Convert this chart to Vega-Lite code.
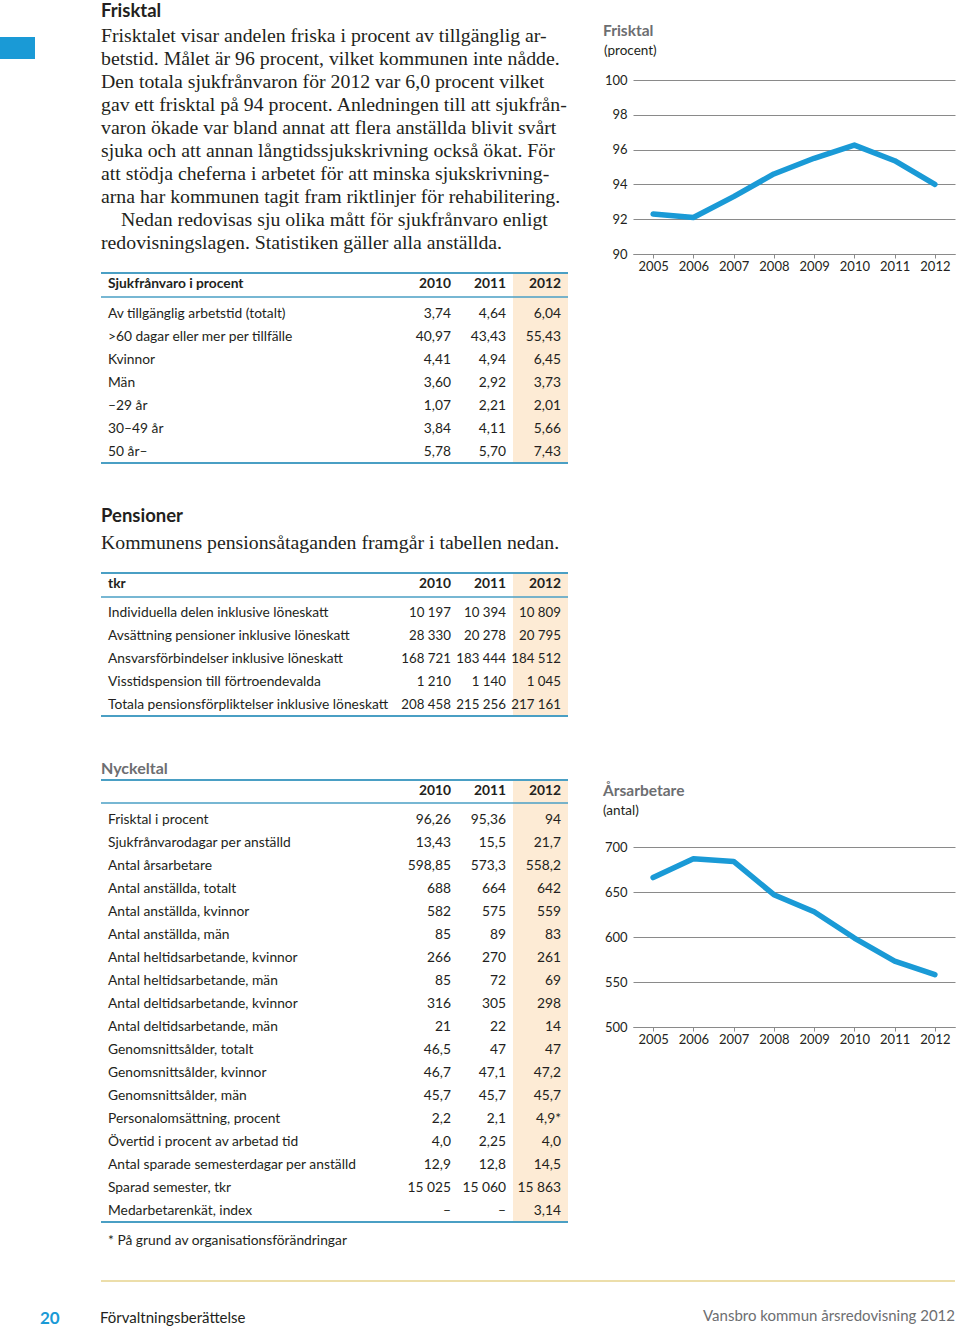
{
  "$schema": "https://vega.github.io/schema/vega-lite/v6.json",
  "width": 960,
  "height": 1330,
  "autosize": "none",
  "padding": 0,
  "background": "#ffffff",
  "config": {"view": {"stroke": null}, "text": {"font": "Lato", "fontSize": 14, "baseline": "middle", "fill": "#231f20"}},
  "resolve": {"scale": {"x": "independent", "y": "independent"}, "axis": {"x": "independent", "y": "independent"}},
  "datasets": {
    "para1": [
      {"line": 0, "indent": false, "text": "Frisktalet visar andelen friska i procent av tillgänglig ar-"},
      {"line": 1, "indent": false, "text": "betstid. Målet är 96 procent, vilket kommunen inte nådde."},
      {"line": 2, "indent": false, "text": "Den totala sjukfrånvaron för 2012 var 6,0 procent vilket"},
      {"line": 3, "indent": false, "text": "gav ett frisktal på 94 procent. Anledningen till att sjukfrån-"},
      {"line": 4, "indent": false, "text": "varon ökade var bland annat att flera anställda blivit svårt"},
      {"line": 5, "indent": false, "text": "sjuka och att annan långtidssjukskrivning också ökat. För"},
      {"line": 6, "indent": false, "text": "att stödja cheferna i arbetet för att minska sjukskrivning-"},
      {"line": 7, "indent": false, "text": "arna har kommunen tagit fram riktlinjer för rehabilitering."},
      {"line": 8, "indent": true, "text": "Nedan redovisas sju olika mått för sjukfrånvaro enligt"},
      {"line": 9, "indent": false, "text": "redovisningslagen. Statistiken gäller alla anställda."}
    ],
    "t1": [
      {"r": 0, "label": "Sjukfrånvaro i procent", "2010": "2010", "2011": "2011", "2012": "2012"},
      {"r": 1, "label": "Av tillgänglig arbetstid (totalt)", "2010": "3,74", "2011": "4,64", "2012": "6,04"},
      {"r": 2, "label": ">60 dagar eller mer per tillfälle", "2010": "40,97", "2011": "43,43", "2012": "55,43"},
      {"r": 3, "label": "Kvinnor", "2010": "4,41", "2011": "4,94", "2012": "6,45"},
      {"r": 4, "label": "Män", "2010": "3,60", "2011": "2,92", "2012": "3,73"},
      {"r": 5, "label": "–29 år", "2010": "1,07", "2011": "2,21", "2012": "2,01"},
      {"r": 6, "label": "30–49 år", "2010": "3,84", "2011": "4,11", "2012": "5,66"},
      {"r": 7, "label": "50 år–", "2010": "5,78", "2011": "5,70", "2012": "7,43"}
    ],
    "t2": [
      {"r": 0, "label": "tkr", "2010": "2010", "2011": "2011", "2012": "2012"},
      {"r": 1, "label": "Individuella delen inklusive löneskatt", "2010": "10 197", "2011": "10 394", "2012": "10 809"},
      {"r": 2, "label": "Avsättning pensioner inklusive löneskatt", "2010": "28 330", "2011": "20 278", "2012": "20 795"},
      {"r": 3, "label": "Ansvarsförbindelser inklusive löneskatt", "2010": "168 721", "2011": "183 444", "2012": "184 512"},
      {"r": 4, "label": "Visstidspension till förtroendevalda", "2010": "1 210", "2011": "1 140", "2012": "1 045"},
      {"r": 5, "label": "Totala pensionsförpliktelser inklusive löneskatt", "2010": "208 458", "2011": "215 256", "2012": "217 161"}
    ],
    "t3": [
      {"r": 0, "label": "", "2010": "2010", "2011": "2011", "2012": "2012"},
      {"r": 1, "label": "Frisktal i procent", "2010": "96,26", "2011": "95,36", "2012": "94"},
      {"r": 2, "label": "Sjukfrånvarodagar per anställd", "2010": "13,43", "2011": "15,5", "2012": "21,7"},
      {"r": 3, "label": "Antal årsarbetare", "2010": "598,85", "2011": "573,3", "2012": "558,2"},
      {"r": 4, "label": "Antal anställda, totalt", "2010": "688", "2011": "664", "2012": "642"},
      {"r": 5, "label": "Antal anställda, kvinnor", "2010": "582", "2011": "575", "2012": "559"},
      {"r": 6, "label": "Antal anställda, män", "2010": "85", "2011": "89", "2012": "83"},
      {"r": 7, "label": "Antal heltidsarbetande, kvinnor", "2010": "266", "2011": "270", "2012": "261"},
      {"r": 8, "label": "Antal heltidsarbetande, män", "2010": "85", "2011": "72", "2012": "69"},
      {"r": 9, "label": "Antal deltidsarbetande, kvinnor", "2010": "316", "2011": "305", "2012": "298"},
      {"r": 10, "label": "Antal deltidsarbetande, män", "2010": "21", "2011": "22", "2012": "14"},
      {"r": 11, "label": "Genomsnittsålder, totalt", "2010": "46,5", "2011": "47", "2012": "47"},
      {"r": 12, "label": "Genomsnittsålder, kvinnor", "2010": "46,7", "2011": "47,1", "2012": "47,2"},
      {"r": 13, "label": "Genomsnittsålder, män", "2010": "45,7", "2011": "45,7", "2012": "45,7"},
      {"r": 14, "label": "Personalomsättning, procent", "2010": "2,2", "2011": "2,1", "2012": "4,9*"},
      {"r": 15, "label": "Övertid i procent av arbetad tid", "2010": "4,0", "2011": "2,25", "2012": "4,0"},
      {"r": 16, "label": "Antal sparade semesterdagar per anställd", "2010": "12,9", "2011": "12,8", "2012": "14,5"},
      {"r": 17, "label": "Sparad semester, tkr", "2010": "15 025", "2011": "15 060", "2012": "15 863"},
      {"r": 18, "label": "Medarbetarenkät, index", "2010": "–", "2011": "–", "2012": "3,14"}
    ],
    "frisktal": [
      {"year": 2005, "v": 92.3}, {"year": 2006, "v": 92.1}, {"year": 2007, "v": 93.3}, {"year": 2008, "v": 94.6},
      {"year": 2009, "v": 95.5}, {"year": 2010, "v": 96.26}, {"year": 2011, "v": 95.36}, {"year": 2012, "v": 94.0}
    ],
    "arsarbetare": [
      {"year": 2005, "v": 666}, {"year": 2006, "v": 687}, {"year": 2007, "v": 684}, {"year": 2008, "v": 647},
      {"year": 2009, "v": 628}, {"year": 2010, "v": 598.85}, {"year": 2011, "v": 573.3}, {"year": 2012, "v": 558.2}
    ]
  },
  "layer": [
    {"data": {"values": [{"el": "tab"}]}, "mark": {"type": "rect", "color": "#1a9ad6"},
     "encoding": {"x": {"value": 0}, "x2": {"value": 35}, "y": {"value": 37}, "y2": {"value": 59}}},
    {"data": {"values": [{"el": "shade1"}]}, "mark": {"type": "rect", "color": "#fdebd5"},
     "encoding": {"x": {"value": 513}, "x2": {"value": 568}, "y": {"value": 273}, "y2": {"value": 463}}},
    {"data": {"values": [{"el": "shade2"}]}, "mark": {"type": "rect", "color": "#fdebd5"},
     "encoding": {"x": {"value": 513}, "x2": {"value": 568}, "y": {"value": 573}, "y2": {"value": 716}}},
    {"data": {"values": [{"el": "shade3"}]}, "mark": {"type": "rect", "color": "#fdebd5"},
     "encoding": {"x": {"value": 513}, "x2": {"value": 568}, "y": {"value": 780}, "y2": {"value": 1222}}},
    {"data": {"values": [{"el": "r1a"}]}, "mark": {"type": "rule", "color": "#4a9fc4", "strokeWidth": 2},
     "encoding": {"x": {"value": 101}, "x2": {"value": 568}, "y": {"value": 273}}},
    {"data": {"values": [{"el": "r1b"}]}, "mark": {"type": "rule", "color": "#4a9fc4", "strokeWidth": 1.5},
     "encoding": {"x": {"value": 101}, "x2": {"value": 568}, "y": {"value": 297}}},
    {"data": {"values": [{"el": "r1c"}]}, "mark": {"type": "rule", "color": "#4a9fc4", "strokeWidth": 2},
     "encoding": {"x": {"value": 101}, "x2": {"value": 568}, "y": {"value": 463}}},
    {"data": {"values": [{"el": "r2a"}]}, "mark": {"type": "rule", "color": "#4a9fc4", "strokeWidth": 2},
     "encoding": {"x": {"value": 101}, "x2": {"value": 568}, "y": {"value": 573}}},
    {"data": {"values": [{"el": "r2b"}]}, "mark": {"type": "rule", "color": "#4a9fc4", "strokeWidth": 1.5},
     "encoding": {"x": {"value": 101}, "x2": {"value": 568}, "y": {"value": 597}}},
    {"data": {"values": [{"el": "r2c"}]}, "mark": {"type": "rule", "color": "#4a9fc4", "strokeWidth": 2},
     "encoding": {"x": {"value": 101}, "x2": {"value": 568}, "y": {"value": 716}}},
    {"data": {"values": [{"el": "r3a"}]}, "mark": {"type": "rule", "color": "#4a9fc4", "strokeWidth": 2},
     "encoding": {"x": {"value": 101}, "x2": {"value": 568}, "y": {"value": 780}}},
    {"data": {"values": [{"el": "r3b"}]}, "mark": {"type": "rule", "color": "#4a9fc4", "strokeWidth": 1.5},
     "encoding": {"x": {"value": 101}, "x2": {"value": 568}, "y": {"value": 803}}},
    {"data": {"values": [{"el": "r3c"}]}, "mark": {"type": "rule", "color": "#4a9fc4", "strokeWidth": 2},
     "encoding": {"x": {"value": 101}, "x2": {"value": 568}, "y": {"value": 1222}}},
    {"data": {"values": [{"el": "footrule"}]}, "mark": {"type": "rule", "color": "#e6d38e", "strokeWidth": 1.5},
     "encoding": {"x": {"value": 101}, "x2": {"value": 955}, "y": {"value": 1281}}},

    {"data": {"values": [{"t": "Frisktal"}]}, "mark": {"type": "text", "font": "Lato", "fontWeight": "bold", "fontSize": 18.5, "align": "left", "baseline": "middle", "fill": "#231f20"},
     "encoding": {"text": {"field": "t"}, "x": {"value": 101}, "y": {"value": 11}}},
    {"data": {"name": "para1"}, "transform": [{"filter": "!datum.indent"}], "mark": {"type": "text", "font": "Liberation Serif", "fontSize": 19.8, "align": "left", "baseline": "middle", "fill": "#231f20"},
     "encoding": {"text": {"field": "text"}, "x": {"value": 101},
       "y": {"field": "line", "type": "quantitative", "scale": {"domain": [0, 9], "range": [36, 243], "nice": false, "zero": false}, "axis": null}}},
    {"data": {"name": "para1"}, "transform": [{"filter": "datum.indent"}], "mark": {"type": "text", "font": "Liberation Serif", "fontSize": 19.8, "align": "left", "baseline": "middle", "dx": 20, "fill": "#231f20"},
     "encoding": {"text": {"field": "text"}, "x": {"value": 101},
       "y": {"field": "line", "type": "quantitative", "scale": {"domain": [0, 9], "range": [36, 243], "nice": false, "zero": false}, "axis": null}}},

    {"data": {"name": "t1"}, "transform": [{"filter": "datum.r == 0"}], "mark": {"type": "text", "fontWeight": "bold", "fontSize": 13.8, "align": "left", "baseline": "middle", "dy": -7, "fill": "#231f20"},
     "encoding": {"text": {"field": "label"}, "x": {"value": 108},
       "y": {"field": "r", "type": "quantitative", "scale": {"domain": [0, 7], "range": [291, 452], "nice": false, "zero": false}, "axis": null}}},
    {"data": {"name": "t1"}, "transform": [{"filter": "datum.r == 0"}, {"fold": ["2010", "2011", "2012"], "as": ["col", "val"]}], "mark": {"type": "text", "fontWeight": "bold", "fontSize": 13.8, "align": "right", "baseline": "middle", "dy": -7, "fill": "#231f20"},
     "encoding": {"text": {"field": "val"},
       "x": {"field": "col", "type": "ordinal", "scale": {"type": "point", "domain": ["2010", "2011", "2012"], "range": [451, 561], "padding": 0}, "axis": null},
       "y": {"field": "r", "type": "quantitative", "scale": {"domain": [0, 7], "range": [291, 452], "nice": false, "zero": false}, "axis": null}}},
    {"data": {"name": "t1"}, "transform": [{"filter": "datum.r > 0"}], "mark": {"type": "text", "fontSize": 13.8, "align": "left", "baseline": "middle", "fill": "#231f20"},
     "encoding": {"text": {"field": "label"}, "x": {"value": 108},
       "y": {"field": "r", "type": "quantitative", "scale": {"domain": [0, 7], "range": [291, 452], "nice": false, "zero": false}, "axis": null}}},
    {"data": {"name": "t1"}, "transform": [{"filter": "datum.r > 0"}, {"fold": ["2010", "2011", "2012"], "as": ["col", "val"]}], "mark": {"type": "text", "fontSize": 13.8, "align": "right", "baseline": "middle", "fill": "#231f20"},
     "encoding": {"text": {"field": "val"},
       "x": {"field": "col", "type": "ordinal", "scale": {"type": "point", "domain": ["2010", "2011", "2012"], "range": [451, 561], "padding": 0}, "axis": null},
       "y": {"field": "r", "type": "quantitative", "scale": {"domain": [0, 7], "range": [291, 452], "nice": false, "zero": false}, "axis": null}}},

    {"data": {"values": [{"t": "Pensioner"}]}, "mark": {"type": "text", "font": "Lato", "fontWeight": "bold", "fontSize": 18.5, "align": "left", "baseline": "middle", "fill": "#231f20"},
     "encoding": {"text": {"field": "t"}, "x": {"value": 101}, "y": {"value": 516}}},
    {"data": {"values": [{"t": "Kommunens pensionsåtaganden framgår i tabellen nedan."}]}, "mark": {"type": "text", "font": "Liberation Serif", "fontSize": 19.8, "align": "left", "baseline": "middle", "fill": "#231f20"},
     "encoding": {"text": {"field": "t"}, "x": {"value": 101}, "y": {"value": 543}}},

    {"data": {"name": "t2"}, "transform": [{"filter": "datum.r == 0"}], "mark": {"type": "text", "fontWeight": "bold", "fontSize": 13.8, "align": "left", "baseline": "middle", "dy": -6, "fill": "#231f20"},
     "encoding": {"text": {"field": "label"}, "x": {"value": 108},
       "y": {"field": "r", "type": "quantitative", "scale": {"domain": [0, 5], "range": [590, 705], "nice": false, "zero": false}, "axis": null}}},
    {"data": {"name": "t2"}, "transform": [{"filter": "datum.r == 0"}, {"fold": ["2010", "2011", "2012"], "as": ["col", "val"]}], "mark": {"type": "text", "fontWeight": "bold", "fontSize": 13.8, "align": "right", "baseline": "middle", "dy": -6, "fill": "#231f20"},
     "encoding": {"text": {"field": "val"},
       "x": {"field": "col", "type": "ordinal", "scale": {"type": "point", "domain": ["2010", "2011", "2012"], "range": [451, 561], "padding": 0}, "axis": null},
       "y": {"field": "r", "type": "quantitative", "scale": {"domain": [0, 5], "range": [590, 705], "nice": false, "zero": false}, "axis": null}}},
    {"data": {"name": "t2"}, "transform": [{"filter": "datum.r > 0"}], "mark": {"type": "text", "fontSize": 13.8, "align": "left", "baseline": "middle", "fill": "#231f20"},
     "encoding": {"text": {"field": "label"}, "x": {"value": 108},
       "y": {"field": "r", "type": "quantitative", "scale": {"domain": [0, 5], "range": [590, 705], "nice": false, "zero": false}, "axis": null}}},
    {"data": {"name": "t2"}, "transform": [{"filter": "datum.r > 0"}, {"fold": ["2010", "2011", "2012"], "as": ["col", "val"]}], "mark": {"type": "text", "fontSize": 13.3, "align": "right", "baseline": "middle", "fill": "#231f20"},
     "encoding": {"text": {"field": "val"},
       "x": {"field": "col", "type": "ordinal", "scale": {"type": "point", "domain": ["2010", "2011", "2012"], "range": [451, 561], "padding": 0}, "axis": null},
       "y": {"field": "r", "type": "quantitative", "scale": {"domain": [0, 5], "range": [590, 705], "nice": false, "zero": false}, "axis": null}}},

    {"data": {"values": [{"t": "Nyckeltal"}]}, "mark": {"type": "text", "font": "Lato", "fontWeight": "bold", "fontSize": 16, "align": "left", "baseline": "middle", "fill": "#6d6e71"},
     "encoding": {"text": {"field": "t"}, "x": {"value": 101}, "y": {"value": 769}}},
    {"data": {"name": "t3"}, "transform": [{"filter": "datum.r == 0"}, {"fold": ["2010", "2011", "2012"], "as": ["col", "val"]}], "mark": {"type": "text", "fontWeight": "bold", "fontSize": 13.8, "align": "right", "baseline": "middle", "dy": -6, "fill": "#231f20"},
     "encoding": {"text": {"field": "val"},
       "x": {"field": "col", "type": "ordinal", "scale": {"type": "point", "domain": ["2010", "2011", "2012"], "range": [451, 561], "padding": 0}, "axis": null},
       "y": {"field": "r", "type": "quantitative", "scale": {"domain": [0, 18], "range": [797, 1211], "nice": false, "zero": false}, "axis": null}}},
    {"data": {"name": "t3"}, "transform": [{"filter": "datum.r > 0"}], "mark": {"type": "text", "fontSize": 13.8, "align": "left", "baseline": "middle", "fill": "#231f20"},
     "encoding": {"text": {"field": "label"}, "x": {"value": 108},
       "y": {"field": "r", "type": "quantitative", "scale": {"domain": [0, 18], "range": [797, 1211], "nice": false, "zero": false}, "axis": null}}},
    {"data": {"name": "t3"}, "transform": [{"filter": "datum.r > 0"}, {"fold": ["2010", "2011", "2012"], "as": ["col", "val"]}], "mark": {"type": "text", "fontSize": 13.8, "align": "right", "baseline": "middle", "fill": "#231f20"},
     "encoding": {"text": {"field": "val"},
       "x": {"field": "col", "type": "ordinal", "scale": {"type": "point", "domain": ["2010", "2011", "2012"], "range": [451, 561], "padding": 0}, "axis": null},
       "y": {"field": "r", "type": "quantitative", "scale": {"domain": [0, 18], "range": [797, 1211], "nice": false, "zero": false}, "axis": null}}},
    {"data": {"values": [{"t": "* På grund av organisationsförändringar"}]}, "mark": {"type": "text", "fontSize": 13.8, "align": "left", "baseline": "middle", "fill": "#231f20"},
     "encoding": {"text": {"field": "t"}, "x": {"value": 108}, "y": {"value": 1241}}},

    {"data": {"values": [{"t": "20"}]}, "mark": {"type": "text", "fontWeight": "bold", "fontSize": 17, "align": "left", "baseline": "middle", "fill": "#1a9ad6"},
     "encoding": {"text": {"field": "t"}, "x": {"value": 40}, "y": {"value": 1319}}},
    {"data": {"values": [{"t": "Förvaltningsberättelse"}]}, "mark": {"type": "text", "fontSize": 15, "align": "left", "baseline": "middle", "fill": "#231f20"},
     "encoding": {"text": {"field": "t"}, "x": {"value": 100}, "y": {"value": 1318}}},
    {"data": {"values": [{"t": "Vansbro kommun årsredovisning 2012"}]}, "mark": {"type": "text", "fontSize": 15, "align": "right", "baseline": "middle", "fill": "#6d6e71"},
     "encoding": {"text": {"field": "t"}, "x": {"value": 955}, "y": {"value": 1316}}},

    {"data": {"values": [{"t": "Frisktal"}]}, "mark": {"type": "text", "fontWeight": "bold", "fontSize": 15.5, "align": "left", "baseline": "middle", "fill": "#6d6e71"},
     "encoding": {"text": {"field": "t"}, "x": {"value": 603}, "y": {"value": 31}}},
    {"data": {"values": [{"t": "(procent)"}]}, "mark": {"type": "text", "fontSize": 13.5, "align": "left", "baseline": "middle", "fill": "#231f20"},
     "encoding": {"text": {"field": "t"}, "x": {"value": 604}, "y": {"value": 51}}},
    {"data": {"name": "frisktal"},
     "mark": {"type": "line", "color": "#1a9ad6", "strokeWidth": 5.5, "strokeCap": "round", "strokeJoin": "round"},
     "encoding": {
       "x": {"field": "year", "type": "quantitative", "scale": {"domain": [2004.5, 2012.5], "range": [633, 955], "nice": false, "zero": false},
             "axis": {"orient": "bottom", "offset": -1076, "values": [2005, 2006, 2007, 2008, 2009, 2010, 2011, 2012], "format": "d", "grid": false, "title": null,
                      "tickSize": 4, "tickColor": "#8a8a8a", "domainColor": "#8a8a8a", "labelFont": "Lato", "labelFontSize": 13, "labelColor": "#231f20", "labelPadding": 2, "labelFlush": false, "labelOverlap": false}},
       "y": {"field": "v", "type": "quantitative", "scale": {"domain": [90, 100], "range": [254, 80], "nice": false, "zero": false},
             "axis": {"orient": "left", "offset": -633, "values": [90, 92, 94, 96, 98, 100], "grid": true, "gridColor": "#8a8a8a", "domain": false, "ticks": false, "title": null,
                      "labelFont": "Lato", "labelFontSize": 13, "labelColor": "#231f20", "labelPadding": 6, "labelOverlap": false}}
     }},

    {"data": {"values": [{"t": "Årsarbetare"}]}, "mark": {"type": "text", "fontWeight": "bold", "fontSize": 15.5, "align": "left", "baseline": "middle", "fill": "#6d6e71"},
     "encoding": {"text": {"field": "t"}, "x": {"value": 603}, "y": {"value": 791}}},
    {"data": {"values": [{"t": "(antal)"}]}, "mark": {"type": "text", "fontSize": 13.5, "align": "left", "baseline": "middle", "fill": "#231f20"},
     "encoding": {"text": {"field": "t"}, "x": {"value": 603}, "y": {"value": 811}}},
    {"data": {"name": "arsarbetare"},
     "mark": {"type": "line", "color": "#1a9ad6", "strokeWidth": 5.5, "strokeCap": "round", "strokeJoin": "round"},
     "encoding": {
       "x": {"field": "year", "type": "quantitative", "scale": {"domain": [2004.5, 2012.5], "range": [633, 955], "nice": false, "zero": false},
             "axis": {"orient": "bottom", "offset": -303, "values": [2005, 2006, 2007, 2008, 2009, 2010, 2011, 2012], "format": "d", "grid": false, "title": null,
                      "tickSize": 4, "tickColor": "#8a8a8a", "domainColor": "#8a8a8a", "labelFont": "Lato", "labelFontSize": 13, "labelColor": "#231f20", "labelPadding": 2, "labelFlush": false, "labelOverlap": false}},
       "y": {"field": "v", "type": "quantitative", "scale": {"domain": [500, 700], "range": [1027, 847], "nice": false, "zero": false},
             "axis": {"orient": "left", "offset": -633, "values": [500, 550, 600, 650, 700], "grid": true, "gridColor": "#8a8a8a", "domain": false, "ticks": false, "title": null,
                      "labelFont": "Lato", "labelFontSize": 13, "labelColor": "#231f20", "labelPadding": 6, "labelOverlap": false}}
     }}
  ]
}
